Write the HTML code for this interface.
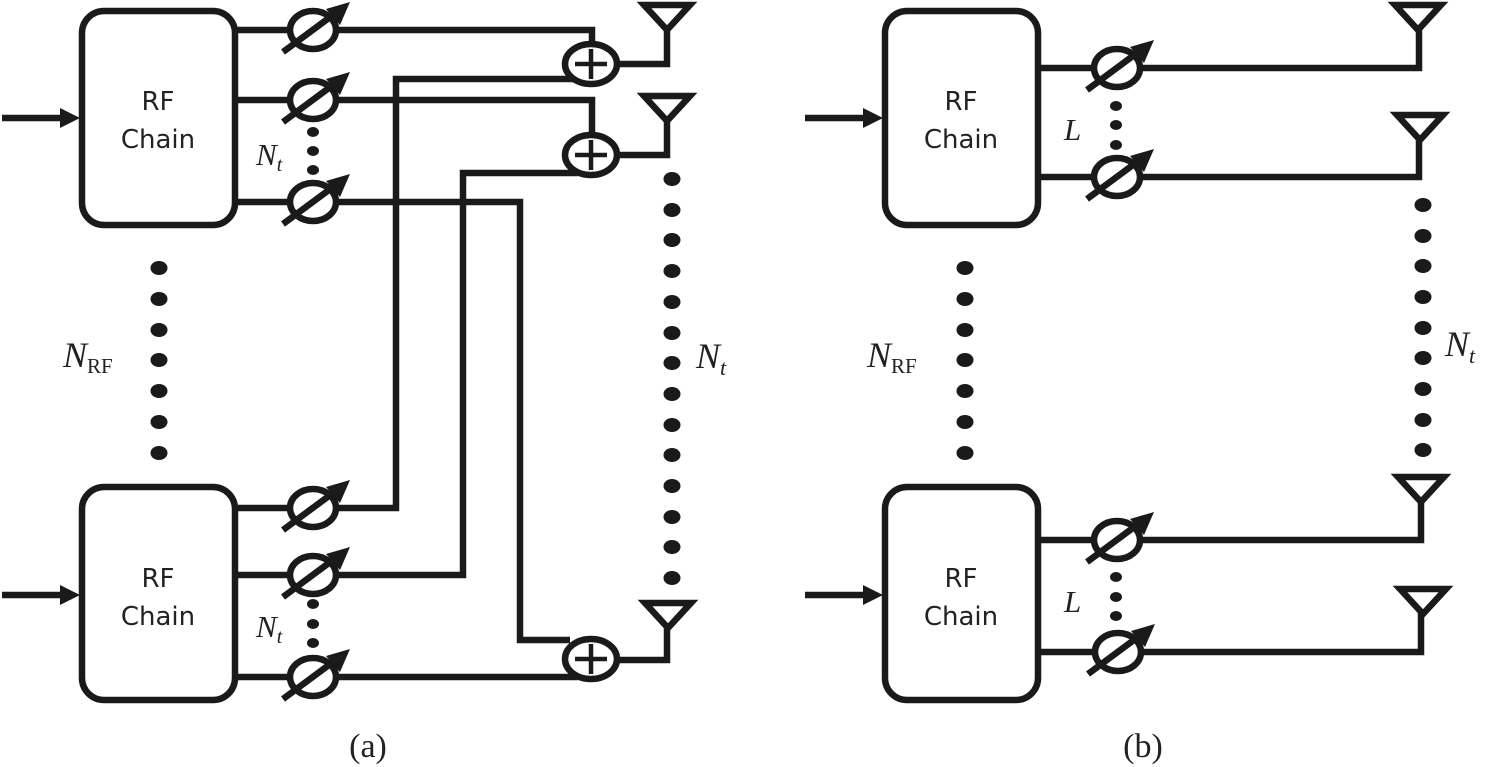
<!DOCTYPE html>
<html><head><meta charset="utf-8"><style>html,body{margin:0;padding:0;background:#fff}svg{display:block}</style></head><body>
<svg width="1488" height="767" viewBox="0 0 1488 767" xmlns="http://www.w3.org/2000/svg">
<defs>
<g id="ps">
<ellipse cx="0" cy="0" rx="23" ry="19" fill="#fff" stroke="#1a1a1a" stroke-width="6.5"/>
<line x1="-30" y1="22" x2="24" y2="-18" stroke="#1a1a1a" stroke-width="6.5"/>
<polygon points="37,-28 13,-21 27,-5" fill="#1a1a1a"/>
</g>
<g id="add">
<ellipse cx="0" cy="0" rx="26" ry="20" fill="#fff" stroke="#1a1a1a" stroke-width="6.5"/>
<line x1="-16" y1="0" x2="16" y2="0" stroke="#1a1a1a" stroke-width="4.5"/>
<line x1="0" y1="-15" x2="0" y2="15" stroke="#1a1a1a" stroke-width="4.5"/>
</g>
<g id="ant">
<polygon points="-23,0 23,0 0,25" fill="none" stroke="#1a1a1a" stroke-width="6.5" stroke-linejoin="miter"/>
</g>
<g id="dot"><ellipse cx="0" cy="0" rx="8.5" ry="7" fill="#1a1a1a"/></g>
</defs>
<g fill="none" stroke="#1a1a1a" stroke-width="6.5">
<rect x="82" y="11" width="153" height="214" rx="22"/>
<rect x="82" y="487" width="153" height="213" rx="22"/>
<rect x="885" y="11" width="153" height="214" rx="22"/>
<rect x="885" y="487" width="153" height="213" rx="22"/>
<line x1="2" y1="118" x2="62" y2="118"/><line x1="2" y1="595" x2="62" y2="595"/>
<line x1="805" y1="118" x2="865" y2="118"/><line x1="805" y1="595" x2="865" y2="595"/>
<polyline points="235,30 592,30 592,46"/>
<polyline points="235,100 592,100 592,137"/>
<polyline points="235,202 520,202 520,640 570,640"/>
<polyline points="575,79 396,79 396,508 235,508"/>
<polyline points="578,173 463,173 463,575 235,575"/>
<polyline points="235,677 578,677"/>
<polyline points="617,64 667,64 667,28"/>
<polyline points="617,155 667,155 667,120"/>
<polyline points="617,660 667,660 667,625"/>
<polyline points="1038,68 1419,68 1419,28"/>
<polyline points="1038,177 1419,177 1419,140"/>
<polyline points="1038,540 1421,540 1421,500"/>
<polyline points="1038,652 1421,652 1421,613"/>
</g>
<g fill="#1a1a1a">
<polygon points="80,118 60,108 60,128"/><polygon points="80,595 60,585 60,605"/>
<polygon points="883,118 863,108 863,128"/><polygon points="883,595 863,585 863,605"/>
</g>
<use href="#ps" x="313" y="30"/><use href="#ps" x="313" y="100"/><use href="#ps" x="313" y="202"/>
<use href="#ps" x="313" y="508"/><use href="#ps" x="313" y="575"/><use href="#ps" x="313" y="677"/>
<use href="#ps" x="1117" y="68"/><use href="#ps" x="1117" y="177"/>
<use href="#ps" x="1117" y="540"/><use href="#ps" x="1118" y="652"/>
<use href="#add" x="591" y="64"/><use href="#add" x="591" y="155"/><use href="#add" x="591" y="659"/>
<use href="#ant" x="667" y="5"/><use href="#ant" x="667" y="96"/><use href="#ant" x="668" y="603"/>
<use href="#ant" x="1418" y="5"/><use href="#ant" x="1420" y="115"/><use href="#ant" x="1421" y="477"/><use href="#ant" x="1423" y="589"/>
<g fill="#1a1a1a">
<ellipse cx="313" cy="132" rx="6" ry="5"/><ellipse cx="313" cy="151" rx="6" ry="5"/><ellipse cx="313" cy="170" rx="6" ry="5"/>
<ellipse cx="313" cy="604" rx="6" ry="5"/><ellipse cx="313" cy="624" rx="6" ry="5"/><ellipse cx="313" cy="643" rx="6" ry="5"/>
<ellipse cx="1116" cy="106" rx="6" ry="5"/><ellipse cx="1116" cy="125" rx="6" ry="5"/><ellipse cx="1116" cy="145" rx="6" ry="5"/>
<ellipse cx="1116" cy="577" rx="6" ry="5"/><ellipse cx="1116" cy="597" rx="6" ry="5"/><ellipse cx="1116" cy="616" rx="6" ry="5"/>
</g>
<use href="#dot" x="159" y="268"/><use href="#dot" x="159" y="299"/><use href="#dot" x="159" y="330"/><use href="#dot" x="159" y="360"/><use href="#dot" x="159" y="391"/><use href="#dot" x="159" y="422"/><use href="#dot" x="159" y="453"/>
<use href="#dot" x="965" y="268"/><use href="#dot" x="965" y="299"/><use href="#dot" x="965" y="330"/><use href="#dot" x="965" y="360"/><use href="#dot" x="965" y="391"/><use href="#dot" x="965" y="422"/><use href="#dot" x="965" y="453"/>
<use href="#dot" x="672" y="179"/><use href="#dot" x="672" y="210"/><use href="#dot" x="672" y="240"/><use href="#dot" x="672" y="271"/><use href="#dot" x="672" y="302"/><use href="#dot" x="672" y="333"/><use href="#dot" x="672" y="363"/><use href="#dot" x="672" y="394"/><use href="#dot" x="672" y="425"/><use href="#dot" x="672" y="455"/><use href="#dot" x="672" y="486"/><use href="#dot" x="672" y="517"/><use href="#dot" x="672" y="547"/><use href="#dot" x="672" y="578"/>
<use href="#dot" x="1423" y="205"/><use href="#dot" x="1423" y="236"/><use href="#dot" x="1423" y="266"/><use href="#dot" x="1423" y="297"/><use href="#dot" x="1423" y="328"/><use href="#dot" x="1423" y="358"/><use href="#dot" x="1423" y="389"/><use href="#dot" x="1423" y="420"/><use href="#dot" x="1423" y="450"/>
<g font-family="'DejaVu Sans','Liberation Sans',sans-serif" font-size="26" fill="#222" text-anchor="middle">
<text x="158" y="110">RF</text><text x="158" y="148">Chain</text>
<text x="158" y="587">RF</text><text x="158" y="625">Chain</text>
<text x="961" y="110">RF</text><text x="961" y="148">Chain</text>
<text x="961" y="587">RF</text><text x="961" y="625">Chain</text>
</g>
<g font-family="'Liberation Serif',serif" font-style="italic" fill="#222">
<text x="256" y="165" font-size="31">N<tspan font-size="20" dy="6">t</tspan></text>
<text x="256" y="637" font-size="31">N<tspan font-size="20" dy="6">t</tspan></text>
<text x="696" y="368" font-size="36">N<tspan font-size="22" dy="7">t</tspan></text>
<text x="1445" y="356" font-size="36">N<tspan font-size="22" dy="7">t</tspan></text>
<text x="1064" y="140" font-size="31">L</text>
<text x="1064" y="612" font-size="31">L</text>
<text x="63" y="367" font-size="36">N<tspan font-style="normal" font-size="21" dy="6">RF</tspan></text>
<text x="867" y="367" font-size="36">N<tspan font-style="normal" font-size="21" dy="6">RF</tspan></text>
</g>
<g font-family="'Liberation Serif',serif" font-size="34" fill="#222" text-anchor="middle">
<text x="368" y="757">(a)</text><text x="1143" y="757">(b)</text>
</g>
</svg>
</body></html>
